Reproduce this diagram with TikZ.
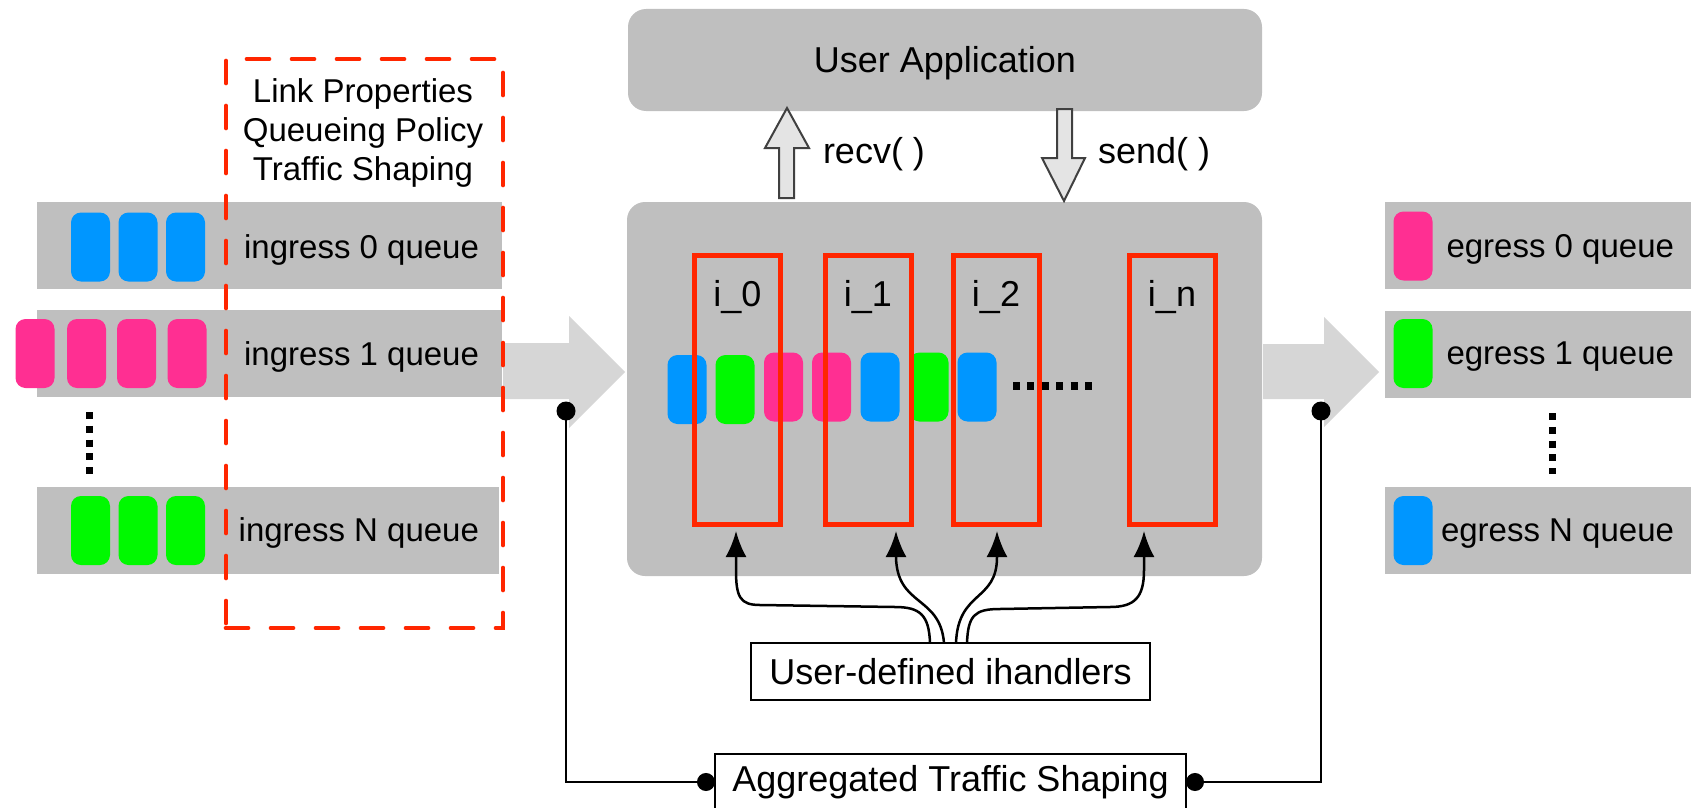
\documentclass[tikz,border=0pt]{standalone}
\usepackage{fontspec}
\setmainfont{Liberation Sans}
\usetikzlibrary{arrows.meta,calc}
\definecolor{boxgray}{RGB}{191,191,191}
\definecolor{arrowgray}{RGB}{214,214,214}
\definecolor{hollowfill}{RGB}{228,228,228}
\definecolor{hollowline}{RGB}{64,64,64}
\definecolor{cblue}{RGB}{0,150,255}
\definecolor{cpink}{RGB}{255,47,146}
\definecolor{cgreen}{RGB}{0,249,0}
\definecolor{cred}{RGB}{255,38,0}
\newcommand{\qfont}{\fontsize{33}{39}\selectfont}
\newcommand{\lfont}{\fontsize{36}{43}\selectfont}
\begin{document}
\begin{tikzpicture}[x=1pt,y=-1pt,
  every node/.style={inner sep=0pt, outer sep=0pt},
  bar/.style={fill=boxgray, minimum width=#1, minimum height=87pt, anchor=north west},
  pkt/.style={fill=#1, rounded corners=10pt, minimum width=39pt, minimum height=69pt},
  rbox/.style={rounded corners=18pt, fill=boxgray},
  ibox/.style={draw=cred, line width=5pt, minimum width=86pt, minimum height=269pt},
  wbox/.style={draw=black, line width=2.5pt, fill=white, font=\lfont},
  qtext/.style={font=\qfont, anchor=base east},
  ltext/.style={font=\lfont, anchor=base},
  bigarrow/.style={fill=arrowgray},
  hollow/.style={fill=hollowfill, draw=hollowline, line width=2pt, line join=miter},
  harrow/.style={draw, line width=2.5pt, -{Latex[length=26pt,width=21pt]}},
  conn/.style={draw, line width=2.5pt},
  vdots/.style={line width=7pt, dash pattern=on 7pt off 6.75pt},
]
\useasboundingbox (0,0) rectangle (1691,808);

% ingress and egress bars
\node[bar=465pt] (ib0) at (37,202) {};
\node[bar=465pt] (ib1) at (37,310) {};
\node[bar=462pt] (ibN) at (37,487) {};
\node[bar=306pt] (eb0) at (1385,202) {};
\node[bar=306pt] (eb1) at (1385,311) {};
\node[bar=306pt] (ebN) at (1385,487) {};

% big flow arrows
\fill[bigarrow] (503,343) -- (569,343) -- (569,316) -- (625,372) -- (569,428) -- (569,399) -- (503,399) -- cycle;
\fill[bigarrow] (1263,344) -- (1324,344) -- (1324,317) -- (1379,372) -- (1324,427) -- (1324,399) -- (1263,399) -- cycle;

% ingress packets
\foreach \x [count=\i] in {90.5,138,185.5} \node[pkt=cblue] (pa\i) at (\x,247) {};
\foreach \x [count=\i] in {35,86.5,136.5,187} \node[pkt=cpink] (pb\i) at (\x,353.5) {};
\foreach \x [count=\i] in {90.5,138,185.5} \node[pkt=cgreen] (pc\i) at (\x,530.5) {};

% egress packets
\node[pkt=cpink] (qa) at (1413,246) {};
\node[pkt=cgreen] (qb) at (1413,353.5) {};
\node[pkt=cblue] (qc) at (1413,530.5) {};

% queue labels
\node[qtext] (it0) at (479,258) {ingress 0 queue};
\node[qtext] (it1) at (479,365) {ingress 1 queue};
\node[qtext] (itN) at (479,541) {ingress N queue};
\node[qtext] (et0) at (1674,257) {egress 0 queue};
\node[qtext] (et1) at (1674,364) {egress 1 queue};
\node[qtext] (etN) at (1674,541) {egress N queue};

% vertical ellipses
\draw[vdots] (89,412) -- (89,475);
\draw[vdots] (1552,413) -- (1552,474);

% link properties dashed box
\node[draw=cred, line width=4.7pt, dash pattern=on 22pt off 23pt, line cap=round,
      minimum width=277pt, minimum height=569pt] (lp) at (364.5,343.5) {};
\node[font=\qfont, anchor=base] (lp1) at (363,102) {Link Properties};
\node[font=\qfont, anchor=base] (lp2) at (363,141) {Queueing Policy};
\node[font=\qfont, anchor=base] (lp3) at (363,180) {Traffic Shaping};

% user application
\node[rbox, minimum width=634pt, minimum height=102pt] (app) at (945,60) {};
\node[ltext] (appt) at (945,72) {User Application};

% core box
\node[rbox, minimum width=635pt, minimum height=374pt] (core) at (944.5,389) {};

% recv / send arrows
\filldraw[hollow] (779,198) -- (779,148) -- (765,148) -- (787,108) -- (809,148) -- (794,148) -- (794,198) -- cycle;
\filldraw[hollow] (1057,109) -- (1072,109) -- (1072,158) -- (1085,158) -- (1064,201) -- (1042,158) -- (1057,158) -- cycle;
\node[ltext, anchor=base west] (recvt) at (823,163) {recv( )};
\node[ltext, anchor=base west] (sendt) at (1098,163) {send( )};

% packets in the core
\node[pkt=cblue] (c1) at (687,389.5) {};
\node[pkt=cgreen] (c2) at (735,389.5) {};
\node[pkt=cpink] (c3) at (783.5,387) {};
\node[pkt=cpink] (c4) at (831.5,387) {};
\node[pkt=cblue] (c5) at (880,387) {};
\node[pkt=cgreen] (c6) at (929,387) {};
\node[pkt=cblue] (c7) at (977,387) {};

% ihandler boxes
\node[ibox] (r0) at (737.5,390) {};
\node[ibox] (r1) at (868,390) {};
\node[ibox] (r2) at (996,390) {};
\node[ibox] (r3) at (1172,390) {};
\node[ltext] (l0) at (737.5,306) {i\_0};
\node[ltext] (l1) at (868,306) {i\_1};
\node[ltext] (l2) at (996,306) {i\_2};
\node[ltext] (l3) at (1172,306) {i\_n};

\draw[line width=8pt, dash pattern=on 7pt off 7.4pt] (1013,386) -- (1092,386);

% user-defined ihandlers
\node[wbox, minimum width=399pt, minimum height=57pt] (uh) at (950.5,671.5) {User-defined ihandlers};
\coordinate (s0) at ($(uh.north)+(-20.5,0)$);
\coordinate (s1) at ($(uh.north)+(-6.5,0)$);
\coordinate (s2) at ($(uh.north)+(5.5,0)$);
\coordinate (s3) at ($(uh.north)+(16.5,0)$);
\coordinate (e0) at ($(r0.south)+(-1.5,6.5)$);
\coordinate (e1) at ($(r1.south)+(28,6.5)$);
\coordinate (e2) at ($(r2.south)+(1,6.5)$);
\coordinate (e3) at ($(r3.south)+(-28,6.5)$);

\draw[harrow] (s0) .. controls +(-1,-28) and +(25,0) .. ++(-35,-36) -- ++(-135,-2)
  .. controls +(-20,0) and +(0,27) .. ($(e0)+(0,39)$) -- (e0);
\draw[harrow] (s1) .. controls +(-4,-48) and +(1,50) .. ($(e1)+(0,26)$) -- (e1);
\draw[harrow] (s2) .. controls +(2,-53) and +(0,45) .. ($(e2)+(0,26)$) -- (e2);
\draw[harrow] (s3) .. controls +(1,-28) and +(-25,0) .. ++(33,-34) -- ++(110,-2)
  .. controls +(25,0) and +(0,27) .. ($(e3)+(0,39)$) -- (e3);

% aggregated traffic shaping
\node[wbox, minimum width=471pt, minimum height=56pt] (agg) at (950.5,782) {Aggregated Traffic Shaping};
\coordinate (dl) at (566,411);
\coordinate (dr) at (1321,411);
\draw[conn, -{Circle[length=18pt]}] (dl) |- (agg.west);
\draw[conn, -{Circle[length=18pt]}] (dr) |- (agg.east);
\fill (dl) circle (9.5);
\fill (dr) circle (9.5);
\end{tikzpicture}
\end{document}
